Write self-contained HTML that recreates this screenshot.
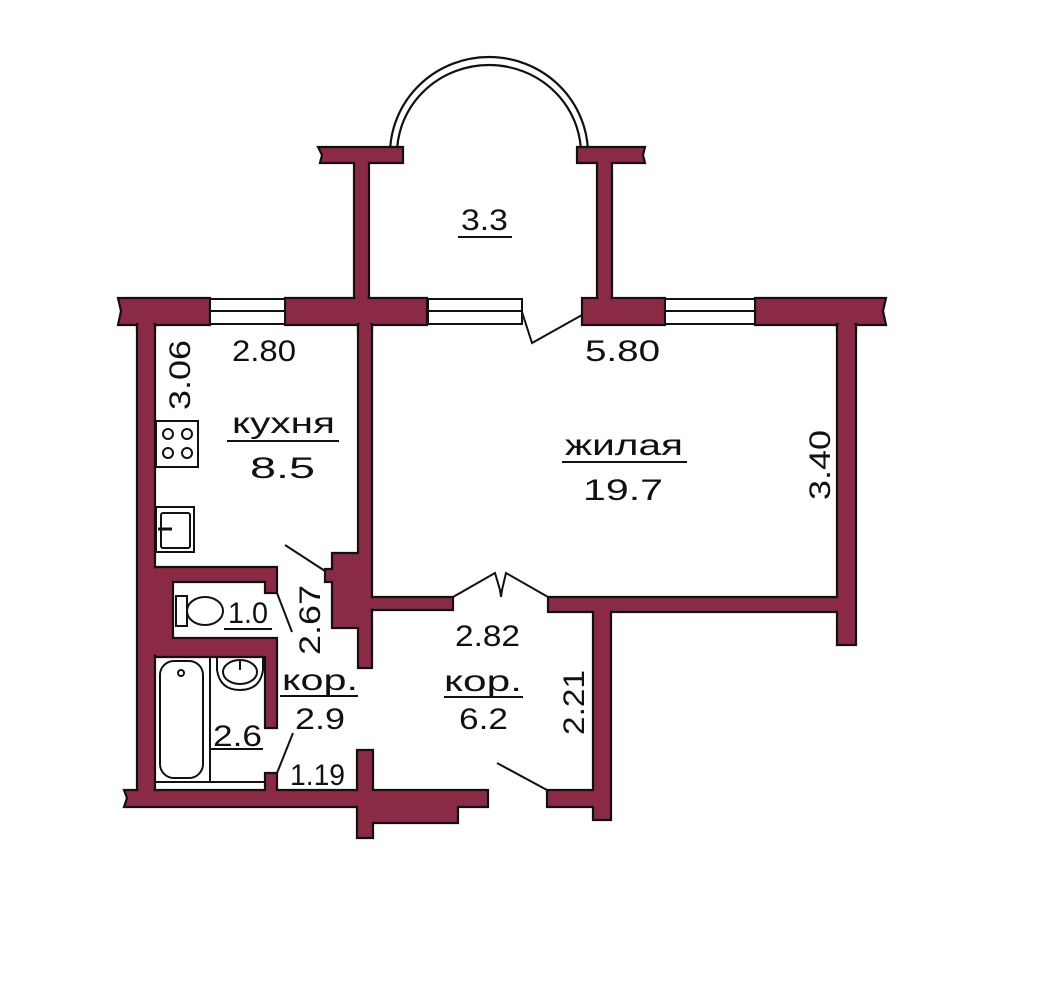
<!DOCTYPE html>
<html><head><meta charset="utf-8"><style>
html,body{margin:0;padding:0;background:#fff;}
svg{display:block}
text{font-family:"Liberation Sans",sans-serif;font-size:30px;fill:#111;}
</style></head><body>
<svg width="1040" height="1008" viewBox="0 0 1040 1008" xmlns="http://www.w3.org/2000/svg">
<g fill="#8a2a45" stroke="#111" stroke-width="2.2" stroke-linejoin="miter">
<path d="M390,154 A98,96 0 0 1 588,154 L581,154 A91,88 0 0 0 397,154 Z" fill="#fff"/>
<polygon points="318,147 403,147 403,163 369,163 369,298 354,298 354,163 320,163 322,155"/>
<polygon points="577,147 645,147 643,155 645,163 612,163 612,298 597,298 597,163 577,163"/>
<polygon points="118,298 210,298 210,325 155,325 155,330 137,330 137,325 118,325 121,311"/>
<polygon points="285,298 427,298 427,325 372,325 372,330 358,330 358,325 285,325"/>
<rect x="582" y="298" width="83" height="27"/>
<polygon points="755,298 886,298 883,311 886,325 856,325 856,330 837,330 837,325 755,325"/>
<rect x="137" y="324" width="18" height="468"/>
<polygon points="358,324 372,324 372,668 358,668 358,628 332,628 332,582 325,582 325,569 332,569 332,553 358,553"/>
<polygon points="372,597 453,597 453,610 372,610"/>
<polygon points="548,597 837,597 837,324 856,324 856,645 837,645 837,612 611,612 611,820 593,820 593,807 547,807 547,790 593,790 593,612 548,612"/>
<polygon points="155,567 277,567 277,593 265,593 265,582 173,582 173,638 277,638 277,728 265,728 265,657 155,657"/>
<polygon points="124,790 265,790 265,773 277,773 277,790 357,790 357,750 373,750 373,790 488,790 488,807 458,807 458,823 373,823 373,838 357,838 357,807 124,807 127,798"/>
</g>
<!-- junction covers -->
<g fill="#8a2a45">
<rect x="355.5" y="290" width="12" height="14"/>
<rect x="598.5" y="290" width="12" height="14"/>
<rect x="359.5" y="318" width="11" height="14"/>
<rect x="138.5" y="318" width="15" height="14"/>
<rect x="838.5" y="318" width="16" height="14"/>
<rect x="359.5" y="545" width="11" height="14"/>
<rect x="355" y="598.5" width="22" height="10"/>
<rect x="138.5" y="568.5" width="22" height="86"/>
<rect x="138.5" y="783" width="15" height="22"/>
<rect x="358.5" y="783" width="13" height="22"/>
<rect x="266.5" y="783" width="9" height="9"/>
</g>
<g fill="#fff" stroke="#111" stroke-width="2">
<rect x="210" y="299" width="75" height="25"/><line x1="210" y1="311" x2="285" y2="311"/>
<rect x="428" y="299" width="94" height="25"/><line x1="428" y1="311" x2="522" y2="311"/>
<rect x="665" y="299" width="90" height="25"/><line x1="665" y1="311" x2="755" y2="311"/>
</g>
<g fill="none" stroke="#111" stroke-width="2">
<polyline points="522,312 532,343 582,315"/>
<line x1="285" y1="545" x2="325" y2="571"/>
<line x1="277" y1="593" x2="292" y2="632"/>
<line x1="277" y1="773" x2="293" y2="733"/>
<polyline points="453,597 495,573 500,590 501,597"/>
<polyline points="548,597 506,573 502,590 501,597"/>
<line x1="497" y1="763" x2="547" y2="790"/>
<rect x="156" y="421" width="42" height="46"/>
<circle cx="168" cy="434" r="5"/><circle cx="187" cy="434" r="5"/>
<circle cx="168" cy="453" r="5"/><circle cx="187" cy="453" r="5"/>
<rect x="156" y="507" width="38" height="45"/>
<rect x="161" y="513" width="29" height="35" rx="2"/>
<line x1="158" y1="529" x2="172" y2="529" stroke-width="3"/>
<rect x="176" y="596" width="11" height="30"/>
<ellipse cx="205" cy="611" rx="18" ry="14"/>
<rect x="155" y="657" width="55" height="125"/>
<rect x="160" y="661" width="43" height="117" rx="14"/>
<circle cx="181" cy="673" r="3"/>
<line x1="210" y1="782" x2="265" y2="782"/>
<path d="M217,657 L217,670 Q220,690 240,690 Q260,690 263,670 L263,657"/>
<ellipse cx="240" cy="672" rx="17" ry="12"/>
<line x1="240" y1="660" x2="240" y2="670"/>
</g>
<g stroke="#111" stroke-width="2">
<line x1="458" y1="237" x2="512" y2="237"/>
<line x1="227" y1="441" x2="339" y2="441"/>
<line x1="562" y1="462" x2="687" y2="462"/>
<line x1="224" y1="629" x2="272" y2="629"/>
<line x1="280" y1="696" x2="358" y2="696"/>
<line x1="444" y1="697" x2="523" y2="697"/>
<line x1="211" y1="749" x2="263" y2="749"/>
</g>
<g lengthAdjust="spacingAndGlyphs">
<text x="461" y="230" textLength="47" lengthAdjust="spacingAndGlyphs">3.3</text>
<text x="232" y="361" textLength="64" lengthAdjust="spacingAndGlyphs">2.80</text>
<text x="585" y="361" textLength="75" lengthAdjust="spacingAndGlyphs">5.80</text>
<text x="232" y="433" textLength="103" lengthAdjust="spacingAndGlyphs">кухня</text>
<text x="250" y="478" textLength="65" lengthAdjust="spacingAndGlyphs">8.5</text>
<text x="565" y="455" textLength="118" lengthAdjust="spacingAndGlyphs">жилая</text>
<text x="583" y="500" textLength="80" lengthAdjust="spacingAndGlyphs">19.7</text>
<text x="228" y="623" textLength="40" lengthAdjust="spacingAndGlyphs">1.0</text>
<text x="282" y="690" textLength="76" lengthAdjust="spacingAndGlyphs">кор.</text>
<text x="295" y="729" textLength="50" lengthAdjust="spacingAndGlyphs">2.9</text>
<text x="213" y="746" textLength="49" lengthAdjust="spacingAndGlyphs">2.6</text>
<text x="290" y="785" textLength="55" lengthAdjust="spacingAndGlyphs">1.19</text>
<text x="455" y="646" textLength="65" lengthAdjust="spacingAndGlyphs">2.82</text>
<text x="444" y="691" textLength="78" lengthAdjust="spacingAndGlyphs">кор.</text>
<text x="459" y="729" textLength="49" lengthAdjust="spacingAndGlyphs">6.2</text>
<text transform="translate(190,410) rotate(-90)" textLength="70" lengthAdjust="spacingAndGlyphs">3.06</text>
<text transform="translate(830,500) rotate(-90)" textLength="70" lengthAdjust="spacingAndGlyphs">3.40</text>
<text transform="translate(320,655) rotate(-90)" textLength="70" lengthAdjust="spacingAndGlyphs">2.67</text>
<text transform="translate(584,735) rotate(-90)" textLength="65" lengthAdjust="spacingAndGlyphs">2.21</text>
</g>
</svg>
</body></html>
